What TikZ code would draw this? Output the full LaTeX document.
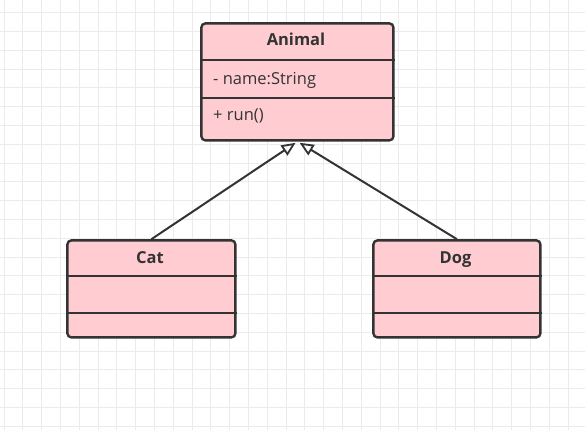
\documentclass[tikz,border=0pt]{standalone}
\usepackage{fontspec}
\setmainfont{Open Sans}
\usetikzlibrary{arrows.meta}
\definecolor{umlfill}{HTML}{FFCCD2}
\definecolor{umlline}{HTML}{333333}
\definecolor{gridc}{HTML}{EBEBEB}
\begin{document}
\begin{tikzpicture}[x=1pt,y=-1pt,
  classbox/.style={draw=umlline, line width=2.4pt, fill=umlfill, rounded corners=4pt, inner sep=0pt, anchor=north west},
  divider/.style={draw=umlline, line width=2.2pt},
  titletext/.style={text=umlline, font=\fontsize{16.5}{19}\selectfont\bfseries, inner sep=0pt, anchor=base},
  membertext/.style={text=umlline, font=\fontsize{16.5}{19}\selectfont, inner sep=0pt, anchor=base west},
  inherit/.style={draw=umlline, line width=2pt, -{Triangle[open, length=14pt, width=12pt, line width=1.8pt]}}
]
\useasboundingbox (0,0) rectangle (585,430);
\fill[white] (0,0) rectangle (585,430);
\foreach \i in {0,...,31} \draw[gridc, line width=1pt] ({4+18.8*\i},0) -- ({4+18.8*\i},430);
\foreach \i in {0,...,22} \draw[gridc, line width=1pt] (0,{12.7+18.8*\i}) -- (585,{12.7+18.8*\i});

% Animal
\node[classbox, minimum width=192pt, minimum height=117pt] (animal) at (200.2,22.2) {};
\draw[divider] (animal.west |- 0,60) -- (animal.east |- 0,60);
\draw[divider] (animal.west |- 0,98) -- (animal.east |- 0,98);
\node[titletext] (animaltitle) at (296,46) {Animal};
\node[membertext] (animalattr) at (213,85) {- name:String};
\node[membertext] (animalop) at (213,121) {+ run()};

% Cat
\node[classbox, minimum width=168pt, minimum height=97pt] (cat) at (66.2,239.2) {};
\draw[divider] (cat.west |- 0,276) -- (cat.east |- 0,276);
\draw[divider] (cat.west |- 0,313) -- (cat.east |- 0,313);
\node[titletext] (cattitle) at (150,263) {Cat};

% Dog
\node[classbox, minimum width=167pt, minimum height=97pt] (dog) at (372.2,239.2) {};
\draw[divider] (dog.west |- 0,276) -- (dog.east |- 0,276);
\draw[divider] (dog.west |- 0,313) -- (dog.east |- 0,313);
\node[titletext] (dogtitle) at (455.5,263) {Dog};

% inheritance
\draw[inherit] (cat.north) -- ([xshift=-1.8pt,yshift=-1.2pt]animal.south);
\draw[inherit] (dog.north) -- ([xshift=2.2pt,yshift=-1.2pt]animal.south);
\end{tikzpicture}
\end{document}
